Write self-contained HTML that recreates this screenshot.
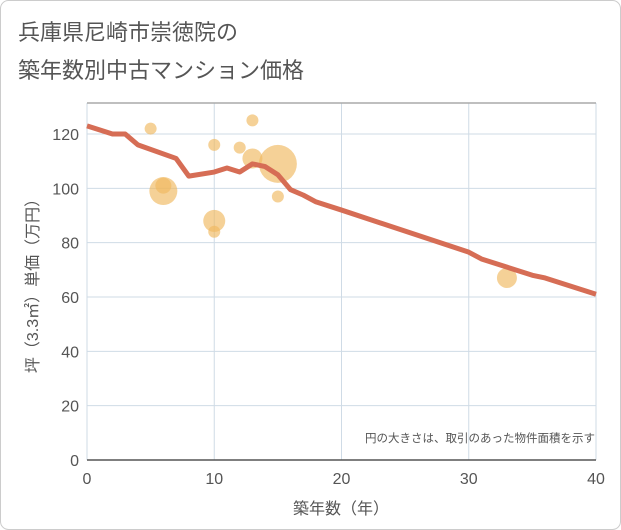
<!DOCTYPE html>
<html><head><meta charset="utf-8"><style>
body{margin:0;background:#fff}
svg{display:block;font-family:"Liberation Sans","Noto Sans CJK JP",sans-serif}
</style></head><body>
<svg width="621" height="530">
<rect x="0.5" y="0.5" width="620" height="529" rx="8" fill="#fff" stroke="#ccc"/>
<text x="18" y="40" font-size="22" fill="#555">兵庫県尼崎市崇徳院の</text>
<text x="18" y="78" font-size="22" fill="#555">築年数別中古マンション価格</text>
<g id="grid"></g>
<g id="bubbles"></g>
<g id="line"></g>
<g id="axes"></g>
<text x="595" y="442" font-size="11.5" fill="#555" text-anchor="end">円の大きさは、取引のあった物件面積を示す</text>
<text x="341" y="514" font-size="16" fill="#555" text-anchor="middle">築年数（年）</text>
<text transform="translate(38,282) rotate(-90)" font-size="16" fill="#555" text-anchor="middle">坪（3.3㎡）単価（万円）</text>
</svg>
<script>
const xTicks=[0,10,20,30,40];
const yTicks=[0,20,40,60,80,100,120];
const lineAge=[0,2,3,4,7,8,10,11,12,13,14,15,16,17,18,20,30,31,35,36,40];
const linePrice=[123,120,120,116,111,104.5,106,107.5,106,109,108,105,99.5,97.5,95,92,76.5,74,68,67,61];
const bubAge=[5,10,13,12,13,15,6,6,10,10,15,33];
const bubPrice=[122,116,125,115,111,109,99,101,88,84,97,67];
const bubR=[6,6,6,6,10,19,14,8,11,6,6,10];
const NS='http://www.w3.org/2000/svg';
const X0=87,X1=596,Y0=460,YT=103;
const sx=v=>X0+(v/40)*(X1-X0);
const sy=v=>Y0-v*(Y0-134)/120;
function mk(tag,attrs,parent){const e=document.createElementNS(NS,tag);for(const k in attrs)e.setAttribute(k,attrs[k]);parent.appendChild(e);return e;}
const grid=document.getElementById('grid'),axes=document.getElementById('axes');
mk('rect',{x:X0,y:YT,width:X1-X0,height:Y0-YT,fill:'#fff'},grid);
yTicks.forEach(t=>{const l=mk('line',{x1:X0,x2:X1,y1:sy(t),y2:sy(t),stroke:'#cfdbe6','stroke-width':1},grid);


const tx=mk('text',{x:X0-8,y:sy(t)+6,'font-size':16,fill:'#555','text-anchor':'end'},axes);tx.textContent=t;

});
xTicks.forEach(t=>{const l=mk('line',{x1:sx(t),x2:sx(t),y1:YT,y2:Y0,stroke:'#cfdbe6','stroke-width':1},grid);


const tx=mk('text',{x:sx(t),y:Y0+24,'font-size':16,fill:'#555','text-anchor':'middle'},axes);tx.textContent=t;

});
mk('line',{x1:X0,x2:X1,y1:YT,y2:YT,stroke:'#aaa','stroke-width':1.5},axes);
mk('line',{x1:X0,x2:X1,y1:Y0,y2:Y0,stroke:'#555','stroke-width':1.5},axes);
const bg=document.getElementById('bubbles');
bubAge.forEach((a,i)=>{const c=mk('circle',{cx:sx(a),cy:sy(bubPrice[i]),r:bubR[i],fill:'#f0b860','fill-opacity':0.65},bg);

});
const pts=lineAge.map((a,i)=>sx(a)+','+sy(linePrice[i])).join(' ');
const pl=mk('polyline',{points:pts,fill:'none',stroke:'#d66d55','stroke-width':5,'stroke-linejoin':'round'},document.getElementById('line'));


</script>
</body></html>
